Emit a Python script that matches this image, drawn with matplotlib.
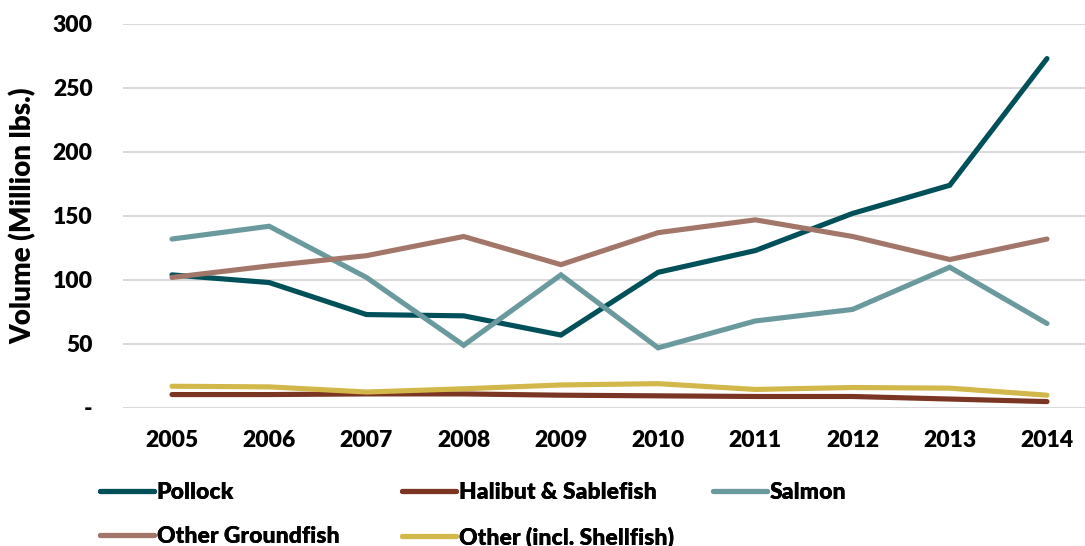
import matplotlib
matplotlib.use("Agg")
import matplotlib.pyplot as plt
from matplotlib.lines import Line2D
from matplotlib.transforms import blended_transform_factory

years = ["2005", "2006", "2007", "2008", "2009", "2010", "2011", "2012", "2013", "2014"]
pollock = [104, 98, 73, 72, 57, 106, 123, 152, 174, 273]
halibut = [10.5, 10.5, 11, 11, 10, 9.5, 9, 9, 7, 5]
salmon = [132, 142, 102, 49, 104, 47, 68, 77, 110, 66]
other_ground = [102, 111, 119, 134, 112, 137, 147, 134, 116, 132]
other_shell = [17, 16.5, 12.5, 15, 18, 19, 14.5, 16, 15.5, 10]
ytick_vals = [0, 50, 100, 150, 200, 250, 300]
ytick_labels = ["-", "50", "100", "150", "200", "250", "300"]

series = [
    ("Pollock", pollock, "#00505A"),
    ("Halibut & Sablefish", halibut, "#7A3523"),
    ("Salmon", salmon, "#6A9A9E"),
    ("Other Groundfish", other_ground, "#A3766A"),
    ("Other (incl. Shellfish)", other_shell, "#D2B74A"),
]

plt.rcParams['font.family'] = ['Lato', 'DejaVu Sans']
BOLD = 800

W, H = 1085, 546
fig = plt.figure(figsize=(W / 100, H / 100), dpi=100)
left, right, top, bottom = 123.4, 1095.6, 24, 408
ax = fig.add_axes([left / W, 1 - bottom / H, (right - left) / W, (bottom - top) / H])

x = list(range(len(years)))
handles = {}
for name, vals, col in series:
    ax.plot(x, vals, color=col, lw=3.7, solid_capstyle='round', solid_joinstyle='miter', zorder=3)
    handles[name] = Line2D([], [], color=col, lw=3.7, solid_capstyle='round')

ax.set_xlim(-0.5, len(years) - 0.5)
ax.set_ylim(0, 300)
ax.set_xticks(x)
ax.set_xticklabels(years)
ax.set_yticks(ytick_vals)
ax.set_yticklabels(ytick_labels)
ax.tick_params(axis='both', length=0, labelsize=16.5, colors='black')
ax.tick_params(axis='y', pad=22)
ax.tick_params(axis='x', pad=16)
for lbl in ax.get_xticklabels() + ax.get_yticklabels():
    lbl.set_fontweight(BOLD)
ax.grid(axis='y', color='#D9D9D9', lw=1.4)
ax.set_axisbelow(True)
for s in ax.spines.values():
    s.set_visible(False)
ax.set_ylabel("Volume (Million lbs.)", fontsize=20, fontweight=BOLD)
ax.yaxis.label.set_va('center')
ax.yaxis.set_label_coords(23 / W, 0.5, transform=blended_transform_factory(fig.transFigure, ax.transAxes))

cols = [
    (100, ["Pollock", "Other Groundfish"]),
    (402, ["Halibut & Sablefish", "Other (incl. Shellfish)"]),
    (713, ["Salmon"]),
]
for xpix, names in cols:
    leg = fig.legend([handles[n] for n in names], names, loc='upper left',
                     bbox_to_anchor=(xpix / W, 1 - 482 / H), frameon=False,
                     handlelength=2.35, handletextpad=0.12, labelspacing=1.0,
                     borderpad=0, borderaxespad=0,
                     prop={'size': 16.5, 'weight': BOLD})
    fig.add_artist(leg)

fig.savefig("out.png", dpi=100)
